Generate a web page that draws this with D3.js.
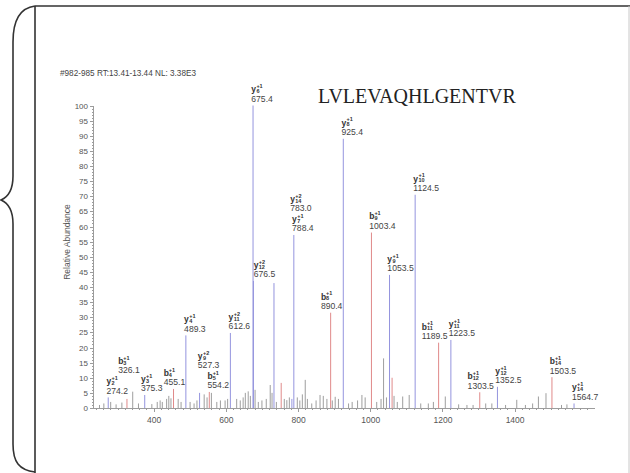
<!DOCTYPE html>
<meta charset="utf-8">
<style>
body { margin: 0; background: #fff; }
svg text { font-family: 'Liberation Sans', Arial, sans-serif; }
.axis path, .axis line { fill: none; stroke: #9c9c9c; stroke-width: 1px; shape-rendering: crispEdges; }
.axis text { fill: #555; font-size: 8px; }
.minor text { display: none; }
.frame { fill: none; stroke: #333; stroke-width: 1.6px; }
.lab text { fill: #333; }
</style>
<svg width="630" height="473"></svg>
<script src="https://d3js.org/d3.v7.min.js"></script>
<script>
// annotated fragment ions (m/z order)
var ionSeries = ["y","b","y","b","y","y","b","y","y","y","y","y","b","y","b","y","y","b","y","b","y","b","y"];
var ionNo     = [2, 3, 3, 4, 4, 9, 5, 11, 6, 12, 14, 7, 8, 8, 9, 9, 10, 11, 11, 12, 12, 14, 14];
var ionCharge = [1, 1, 1, 1, 1, 2, 1, 2, 1, 2, 2, 1, 1, 1, 1, 1, 1, 1, 1, 1, 1, 1, 1];
var ionMz     = [274.2, 326.1, 375.3, 455.1, 489.3, 527.3, 554.2, 612.6, 675.4, 676.5, 783.0, 788.4,
                 890.4, 925.4, 1003.4, 1053.5, 1124.5, 1189.5, 1223.5, 1303.5, 1352.5, 1503.5, 1564.7];
var ionInt    = [3.5, 3.0, 4.3, 6.3, 24, 5.0, 5.3, 24.8, 100, 42, 3.0, 57.2,
                 31.5, 89, 58, 44, 70.5, 21.6, 22.5, 5.2, 7.0, 10.2, 1.5];

// other peaks (no label); type "y"/"b" are coloured, "n" plain
var otherMz   = [250, 262, 281, 296, 312, 342, 358, 395, 410, 418, 424, 436, 442, 448, 468, 476, 501, 512,
                 520, 540, 548, 560, 575, 585, 598, 605, 630, 640, 648, 654, 662, 668, 681, 690, 700, 712,
                 723, 728, 733.4, 740, 753.4, 762, 769, 776, 798, 805, 812, 820, 826, 838, 850, 861, 870, 880,
                 895, 903, 912, 940, 950, 965, 977, 986, 1018, 1030, 1037, 1045, 1060.6, 1066, 1075, 1090,
                 1108, 1140, 1161, 1175, 1208, 1245, 1268, 1285, 1320, 1337, 1375, 1406, 1430, 1450, 1466,
                 1487, 1530, 1545];
var otherInt  = [1.0, 1.5, 2.0, 1.2, 1.8, 5.4, 1.5, 1.3, 2.0, 2.5, 2.0, 3.0, 4.0, 3.2, 3.0, 2.0, 2.0, 1.5,
                 2.5, 4.5, 3.5, 5.0, 2.0, 2.5, 2.5, 3.0, 3.0, 2.5, 3.5, 5.0, 5.5, 4.0, 6.0, 2.0, 2.5, 3.0,
                 7.6, 5.0, 41.3, 2.0, 8.3, 3.0, 2.6, 3.5, 3.5, 2.5, 4.5, 9.3, 3.0, 1.5, 2.5, 4.3, 4.0, 3.0,
                 2.5, 3.7, 3.0, 1.5, 2.0, 2.5, 4.3, 3.5, 2.0, 3.0, 16.4, 3.5, 10.0, 4.0, 2.0, 3.8,
                 4.3, 1.5, 1.5, 2.0, 3.8, 1.2, 1.0, 1.0, 1.5, 1.5, 1.0, 2.7, 1.0, 1.5, 3.8,
                 4.9, 1.0, 1.2];
var otherType = otherMz.map(function(m) { return m === 733.4 ? "y" : (m === 753.4 || m === 1060.6) ? "b" : "n"; });

var xTicks = [400, 600, 800, 1000, 1200, 1400];
var yTicks = d3.range(0, 101, 5);

var header = "#982-985 RT:13.41-13.44 NL: 3.38E3";
var peptide = "LVLEVAQHLGENTVR";

var svg = d3.select("svg");
var color = {y: "#9494de", b: "#e08a8a", n: "#747474"};
var labH = 18.5;

var x = d3.scaleLinear().domain([232, 1620]).range([93, 594]);
var y = d3.scaleLinear().domain([0, 100]).range([408, 105.5]);

// frame and brace
svg.append("path").attr("class", "frame")
    .attr("d", "M35,6 L630,6 M35,6 L35,473");
svg.append("line").attr("x1", 629).attr("x2", 629).attr("y1", 6).attr("y2", 473)
    .attr("stroke", "#c8c8c8").attr("stroke-width", 1);
svg.append("path").attr("class", "frame")
    .attr("d", "M35,6 C19,8 13,22 13,42 L13,176 C13,190 8,197 1,200 C8,203 13,210 13,224 L13,444 C13,462 19,470 35,472");

// axes
svg.append("g").attr("class", "axis minor")
    .attr("transform", "translate(93,0)")
    .call(d3.axisLeft(y).tickValues(d3.range(0, 101, 1)).tickSize(1.5).tickSizeOuter(0));
svg.append("g").attr("class", "axis")
    .attr("transform", "translate(93,0)")
    .call(d3.axisLeft(y).tickValues(yTicks).tickSize(3).tickPadding(2).tickSizeOuter(0));
svg.append("g").attr("class", "axis minor")
    .attr("transform", "translate(0,408)")
    .call(d3.axisBottom(x).tickValues(d3.range(240, 1620, 20)).tickSize(2).tickSizeOuter(0));
svg.append("g").attr("class", "axis")
    .attr("transform", "translate(0,408)")
    .call(d3.axisBottom(x).tickValues(xTicks).tickFormat(d3.format("d"))
      .tickSize(3.5).tickPadding(5).tickSizeOuter(0))
    .selectAll("text").style("font-size", "8.5px");

svg.append("text")
    .attr("transform", "translate(70,242) rotate(-90)")
    .attr("text-anchor", "middle")
    .style("font-size", "8.5px").style("fill", "#555")
    .text("Relative Abundance");

svg.append("text").attr("x", 60).attr("y", 76)
    .style("font-size", "8.2px").style("fill", "#444")
    .text(header);

svg.append("text").attr("x", 318).attr("y", 103)
    .style("font-family", "'Liberation Serif', 'Times New Roman', serif")
    .style("font-size", "20px").style("fill", "#222")
    .text(peptide);

// peaks
var others = otherMz.map(function(m, i) { return {mz: m, v: otherInt[i], t: otherType[i]}; });
var ions = ionMz.map(function(m, i) {
  return {mz: m, v: ionInt[i], t: ionSeries[i], n: ionNo[i], z: ionCharge[i]};
});
var peaks = others.filter(function(d) { return d.t === "n"; })
    .concat(others.filter(function(d) { return d.t !== "n"; }))
    .concat(ions);

svg.append("g").selectAll("line")
    .data(peaks)
  .enter().append("line")
    .attr("x1", function(d) { return x(d.mz); })
    .attr("x2", function(d) { return x(d.mz); })
    .attr("y1", y(0))
    .attr("y2", function(d) { return y(d.v); })
    .attr("stroke", function(d) { return color[d.t]; })
    .attr("stroke-width", function(d) { return d.t === "n" ? 0.7 : 1; });

// ion labels: ion name with stacked charge/number, m/z below
var lab = svg.append("g").attr("class", "lab").selectAll("g")
    .data(ions)
  .enter().append("g");
var ion = lab.append("text").attr("x", 0).attr("y", -9.6)
    .style("font-size", "8.5px").style("font-weight", "bold");
ion.append("tspan").text(function(d) { return d.t; });
ion.append("tspan").attr("x", 5.1).attr("y", -13.8).style("font-size", "5.5px")
    .text(function(d) { return "+" + d.z; });
ion.append("tspan").attr("x", 5.1).attr("y", -8.8).style("font-size", "5.5px")
    .text(function(d) { return d.n; });
lab.append("text").attr("class", "mz").attr("x", 0).attr("y", 0)
    .style("font-size", "8.6px").style("fill", "#444")
    .text(function(d) { return d.mz.toFixed(1); });

lab.each(function(d) { d.w = d3.select(this).select(".mz").node().getComputedTextLength(); });

// place labels: tallest first, above own peak, shift sideways or up to avoid overlaps
var placed = [];
function fits(d, L, b) {
  var x0 = L - 0.5, x1 = L + d.w + 0.5, y0 = b - labH, y1 = b + 1.5;
  for (var i = 0; i < placed.length; i++) {
    var p = placed[i];
    if (x0 < p.x1 && x1 > p.x0 && y0 < p.y1 && y1 > p.y0) return false;
  }
  for (var j = 0; j < ions.length; j++) {
    var o = ions[j];
    if (o === d) continue;
    var lx = x(o.mz);
    if (lx > x0 && lx < x1 && y(o.v) < y1) return false;
  }
  return true;
}
ions.slice().sort(function(a, b) { return b.v - a.v; }).forEach(function(d) {
  var px = x(d.mz), pref = px - 2;
  var cands = d3.range(px - d.w / 2 - 8, px + 2.01, 0.5)
      .sort(function(a, c) { return Math.abs(a - pref) - Math.abs(c - pref); });
  for (var b = y(d.v) - 3.5; b > 20; b -= 1) {
    for (var k = 0; k < cands.length; k++) {
      if (fits(d, cands[k], b)) {
        d.L = cands[k]; d.b = b;
        placed.push({x0: d.L - 0.5, x1: d.L + d.w + 0.5, y0: b - labH, y1: b + 1.5});
        return;
      }
    }
  }
});
lab.attr("transform", function(d) { return "translate(" + d.L + "," + d.b + ")"; });
</script>
